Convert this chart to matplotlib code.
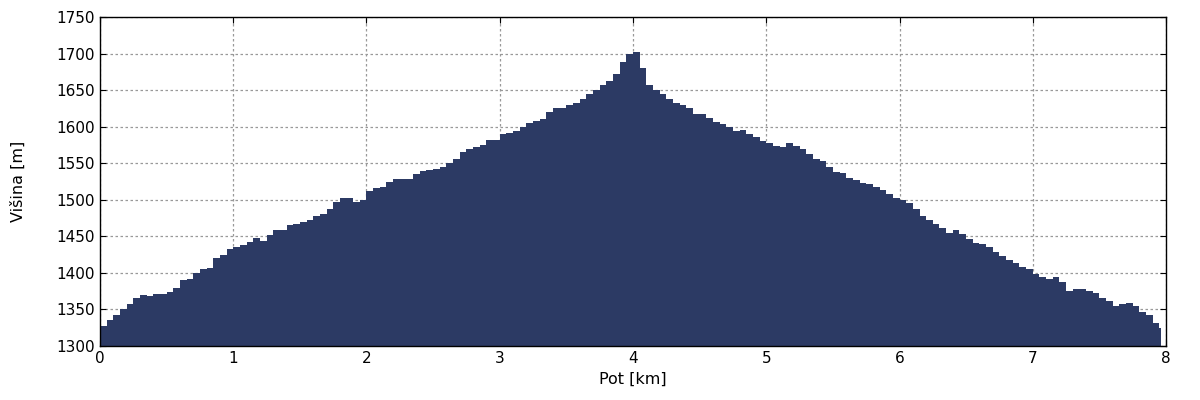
import numpy as np
import matplotlib.pyplot as plt

# elevation profile sampled every 50 m
dist = np.arange(0, 7.96, 0.05)
elev = [1328, 1335, 1342, 1350, 1357, 1365, 1370, 1369, 1371, 1371,
        1374, 1380, 1390, 1392, 1400, 1405, 1407, 1420, 1425, 1432,
        1436, 1438, 1442, 1448, 1443, 1452, 1458, 1458, 1465, 1467,
        1470, 1473, 1478, 1480, 1488, 1497, 1503, 1502, 1497, 1500,
        1512, 1516, 1518, 1524, 1528, 1529, 1529, 1535, 1540, 1541,
        1542, 1545, 1550, 1556, 1565, 1570, 1572, 1575, 1582, 1582,
        1590, 1591, 1594, 1600, 1605, 1608, 1610, 1620, 1626, 1625,
        1630, 1632, 1638, 1645, 1650, 1657, 1662, 1672, 1688, 1700,
        1702, 1680, 1657, 1650, 1645, 1638, 1632, 1630, 1625, 1618,
        1618, 1612, 1607, 1603, 1600, 1594, 1596, 1590, 1586, 1581,
        1577, 1574, 1572, 1578, 1574, 1570, 1562, 1556, 1553, 1545,
        1538, 1537, 1530, 1527, 1523, 1522, 1517, 1513, 1508, 1503,
        1500, 1496, 1488, 1478, 1472, 1467, 1461, 1454, 1458, 1453,
        1447, 1441, 1440, 1435, 1428, 1423, 1418, 1414, 1408, 1405,
        1398, 1395, 1391, 1394, 1387, 1375, 1378, 1378, 1375, 1372,
        1366, 1362, 1355, 1358, 1359, 1355, 1347, 1342, 1332, 1325]
elev = np.array(elev[:len(dist)])

fig = plt.figure(figsize=(12, 4), dpi=100)
ax = fig.add_axes([0.0833, 0.135, 0.8884, 0.8225])

x = np.append(dist, 7.96)
y = np.append(elev, elev[-1])
ax.fill_between(x, 1300, y, step='post', color='#2c3a64', linewidth=0)

ax.set_xlim(0, 8)
ax.set_ylim(1300, 1750)
ax.set_xticks(range(0, 9))
ax.set_yticks(range(1300, 1751, 50))
ax.grid(True, color='#999999', linestyle=(0, (2, 2)), linewidth=0.9)
ax.set_axisbelow(True)
ax.tick_params(direction='in', top=True, right=True, labelsize=11, length=4)
for s in ax.spines.values():
    s.set_linewidth(1.0)
    s.set_zorder(3)

ax.set_xlabel('Pot [km]', fontsize=11.5)
ax.set_ylabel('Višina [m]', fontsize=11.5, labelpad=22)

plt.savefig('out.png')
